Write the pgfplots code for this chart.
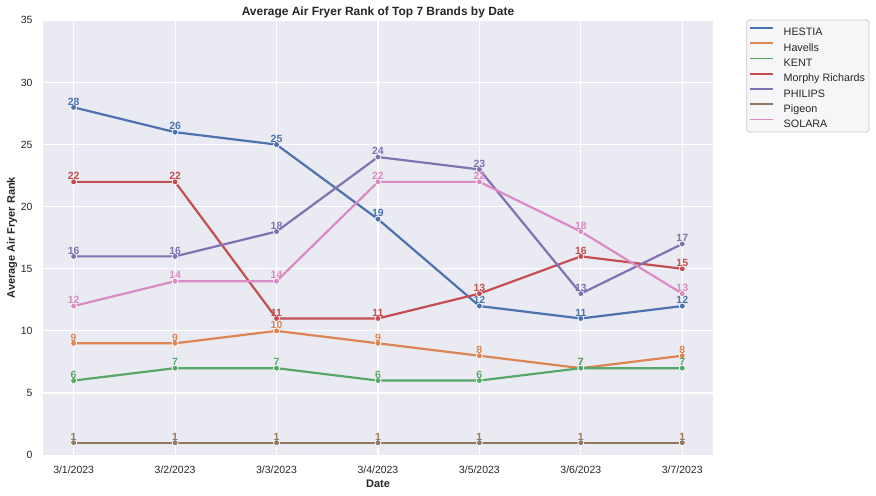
\documentclass[border=0pt]{standalone}
\usepackage{pgfplots}
\pgfplotsset{compat=1.18}
\usepackage{fontspec}
\setmainfont{Liberation Sans}
\definecolor{cHESTIA}{HTML}{4C72B0}
\definecolor{cHavells}{HTML}{DD8452}
\definecolor{cKENT}{HTML}{55A868}
\definecolor{cMorphy}{HTML}{C44E52}
\definecolor{cPHILIPS}{HTML}{8172B3}
\definecolor{cPigeon}{HTML}{937860}
\definecolor{cSOLARA}{HTML}{DA8BC3}
\definecolor{bg}{HTML}{EAEAF2}
\definecolor{txt}{HTML}{262626}
\pgfplotsset{
  brand/.style={color=#1, line width=2.2bp, mark=*, mark size=3bp,
    mark options={fill=#1, draw=white, line width=0.7bp},
    nodes near coords, point meta=explicit symbolic,
    every node near coord/.append style={text=#1, font=\fontsize{10.5}{11}\selectfont\bfseries, anchor=base, inner sep=0pt, yshift=2.3bp}},
}
\begin{document}
\begin{tikzpicture}[x=1bp,y=1bp]
\path[use as bounding box] (0,0) rectangle (876,496);
\draw[black!20, fill=bg!45, rounded corners=2.5bp, line width=0.8bp] (746.7,476) rectangle (869,364);
\begin{axis}[
  at={(43.2bp,40.9bp)}, anchor=south west,
  width=669.5bp, height=434.7bp, scale only axis,
  xmin=-0.3, xmax=6.3, ymin=0, ymax=35,
  axis background/.style={fill=bg},
  axis line style={draw=none},
  grid=major, major grid style={white, line width=1.1bp},
  major tick length=0pt,
  xtick={0,...,6},
  xticklabels={3/1/2023,3/2/2023,3/3/2023,3/4/2023,3/5/2023,3/6/2023,3/7/2023},
  ytick={0,5,...,35},
  /pgf/number format/assume math mode=true,
  tick label style={font=\fontsize{10.5}{12}\selectfont, text=txt},
  xticklabel style={anchor=base, inner sep=0pt, yshift=-18.3bp},
  yticklabel style={anchor=east, inner sep=0pt, xshift=-10.5bp},
  clip=false,
  legend style={at={(1.0500,0.9963)}, anchor=north west, draw=none, fill=none,
    font=\fontsize{10.8}{12}\selectfont,
    nodes={inner sep=0pt, text height=9bp, text depth=0.6bp},
    row sep=5.5bp, column sep=0bp,
    inner xsep=3bp, inner ysep=4.55bp, text=txt},
  legend cell align=left,
  legend image code/.code={\draw[#1, mark=none, line width=1.7bp] (0bp,3.9bp) -- (22.4bp,3.9bp);
    \path (32.4bp,3.9bp);},
]
\addplot[brand=cHESTIA] table[meta index=1] {
x y
0 28
1 26
2 25
3 19
4 12
5 11
6 12
};
\addlegendentry{HESTIA}
\addplot[brand=cHavells] table[meta index=1] {
x y
0 9
1 9
2 10
3 9
4 8
5 7
6 8
};
\addlegendentry{Havells}
\addplot[brand=cKENT] table[meta index=1] {
x y
0 6
1 7
2 7
3 6
4 6
5 7
6 7
};
\addlegendentry{KENT}
\addplot[brand=cMorphy] table[meta index=1] {
x y
0 22
1 22
2 11
3 11
4 13
5 16
6 15
};
\addlegendentry{Morphy Richards}
\addplot[brand=cPHILIPS] table[meta index=1] {
x y
0 16
1 16
2 18
3 24
4 23
5 13
6 17
};
\addlegendentry{PHILIPS}
\addplot[brand=cPigeon] table[meta index=1] {
x y
0 1
1 1
2 1
3 1
4 1
5 1
6 1
};
\addlegendentry{Pigeon}
\addplot[brand=cSOLARA] table[meta index=1] {
x y
0 12
1 14
2 14
3 22
4 22
5 18
6 13
};
\addlegendentry{SOLARA}
\end{axis}
\node[anchor=base, inner sep=0pt, font=\fontsize{12}{14}\selectfont\bfseries, text=txt] at (378,480.7) {Average Air Fryer Rank of Top 7 Brands by Date};
\node[anchor=base, inner sep=0pt, font=\fontsize{11}{13}\selectfont\bfseries, text=txt] at (378,8.7) {Date};
\node[anchor=center, inner sep=0pt, rotate=90, font=\fontsize{11}{13}\selectfont\bfseries, text=txt] at (12,258.3) {Average Air Fryer Rank};
\end{tikzpicture}
\end{document}
